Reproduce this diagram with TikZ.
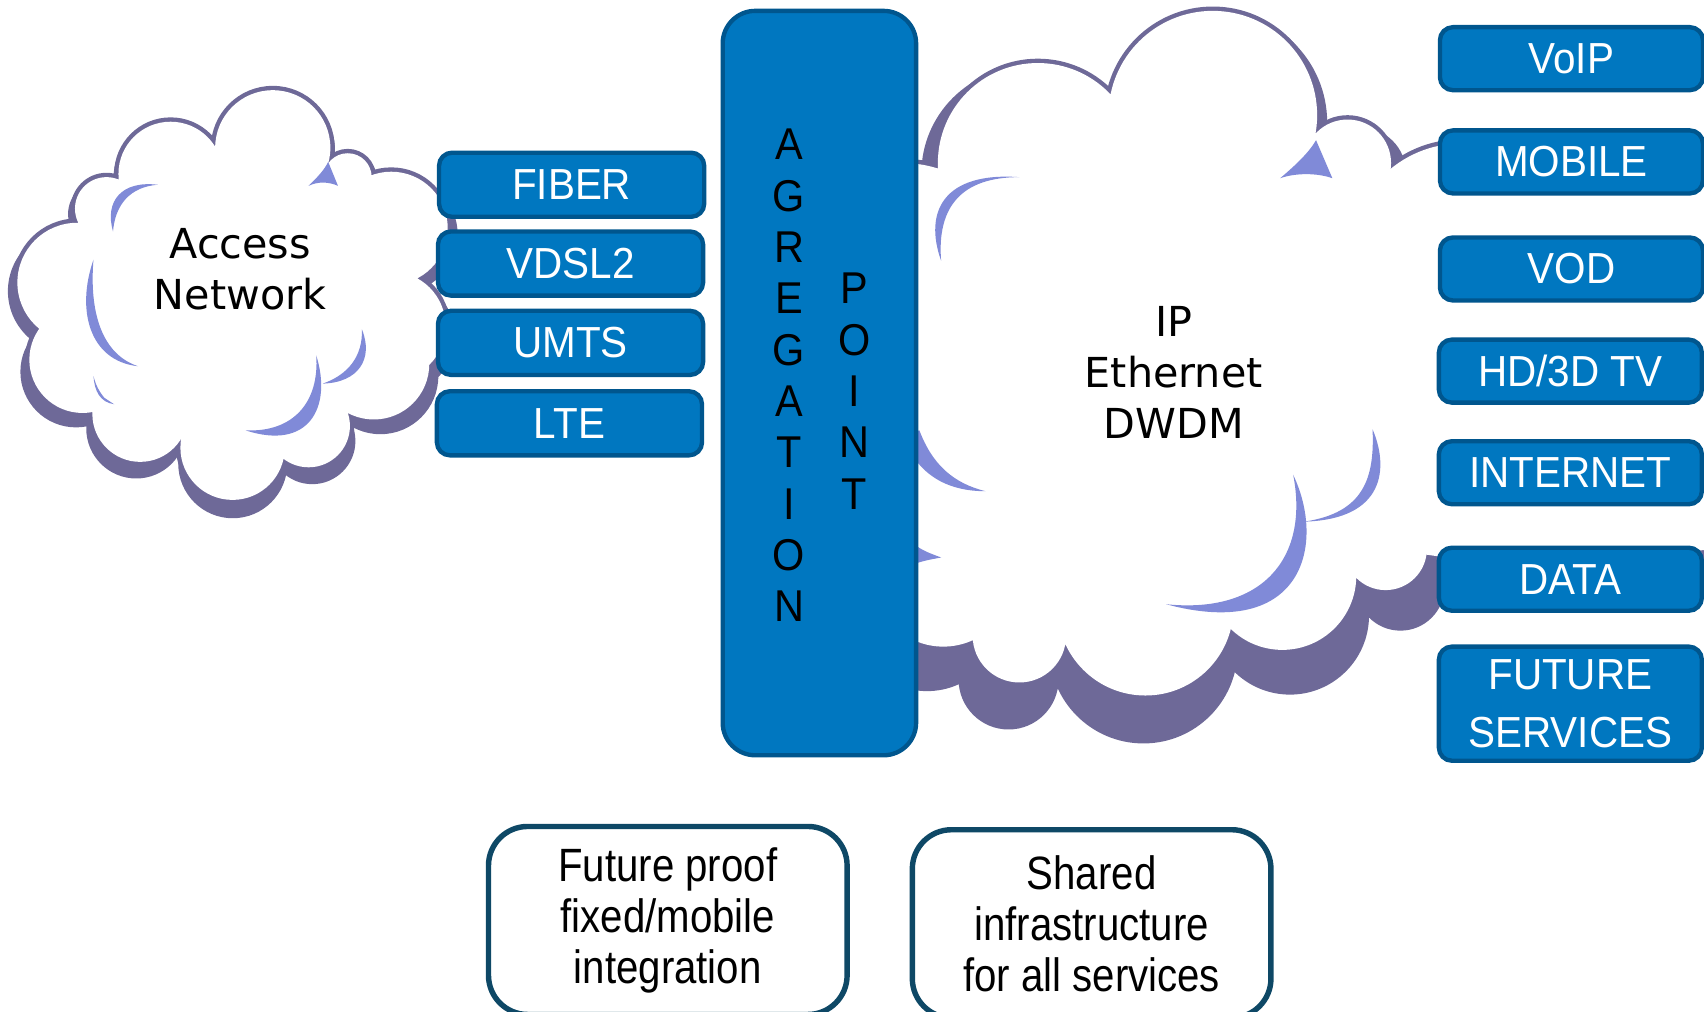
\documentclass[tikz,border=0pt]{standalone}
\usepackage{fontspec}
\newfontfamily\labelfont[FakeStretch=0.93]{Liberation Sans}
\newfontfamily\cloudfont{DejaVu Sans}
\newfontfamily\notefont[FakeStretch=0.86]{Liberation Sans}
\definecolor{boxblue}{RGB}{0,119,192}
\definecolor{boxedge}{RGB}{0,86,142}
\definecolor{rimpurple}{RGB}{110,105,152}
\definecolor{gleamblue}{RGB}{128,138,216}
\definecolor{noteedge}{RGB}{14,72,102}

\newcommand\accessbumps{(71,260) circle[radius=55] (76,331) circle[radius=49]
  (129,381) circle[radius=44] (214,412) circle[radius=48] (284,392) circle[radius=38]
  (344,335) circle[radius=51] (360,300) circle[radius=50] (360,210) circle[radius=52]
  (320,163) circle[radius=22] (251,136) circle[radius=53] (157,160) circle[radius=48]
  (98,192) circle[radius=29]}
\newcommand\accesscore{(210,280) circle[radius=125] (280,220) circle[radius=70]}
\newcommand\ipbumps{(830,260) circle[radius=110] (955,150) circle[radius=92]
  (1116,106) circle[radius=96] (1240,150) circle[radius=40] (1345,235) circle[radius=103]
  (1345,470) circle[radius=45] (1275,505) circle[radius=38] (1180,530) circle[radius=68]
  (1054,559) circle[radius=81] (938,585) circle[radius=43] (868,530) circle[radius=65]
  (820,420) circle[radius=100]}
\newcommand\ipcore{(830,260) -- (955,150) -- (1116,106) -- (1240,150) -- (1340,170)
  -- (1600,170) -- (1600,505) -- (1345,515) -- (1275,505) -- (1180,530) -- (1054,559)
  -- (938,585) -- (868,530) -- (820,420) -- cycle}

\tikzset{
  cloudrim/.style={draw=rimpurple, line width=4pt},
  gleam/.style={fill=gleamblue},
  cloudtext/.style={align=center, inner sep=0pt, font=\cloudfont\fontsize{19}{23.5}\selectfont},
  techbox/.style={draw=boxedge, fill=boxblue, line width=2pt, rounded corners=6pt,
    minimum width=122pt, minimum height=29.5pt, inner sep=0pt, text=white,
    font=\labelfont\fontsize{20}{27}\selectfont},
  servicebox/.style={techbox, align=center, minimum width=121pt, minimum height=29pt},
  aggbox/.style={draw=boxedge, fill=boxblue, line width=2pt, rounded corners=15pt,
    minimum width=89pt, minimum height=342.5pt},
  aggletters/.style={align=center, inner sep=0pt, font=\labelfont\fontsize{20.5}{23.6}\selectfont},
  notebox/.style={draw=noteedge, fill=white, line width=2.5pt, rounded corners=18pt,
    minimum width=165pt, minimum height=86.5pt, align=center, inner sep=0pt,
    font=\notefont\fontsize{21.5}{23.5}\selectfont}
}

\begin{document}
\begin{tikzpicture}[x=0.5pt,y=-0.5pt]
\useasboundingbox (0,0) rectangle (1568,931);
\clip (0,0) rectangle (1568,931);

\begin{scope}[shift={(210,85)},scale=1.045,shift={(-210,-85)}]
  \fill[rimpurple] \accessbumps;
  \fill[rimpurple] \accesscore;
\end{scope}
\draw[cloudrim] \accessbumps;
\fill[white] \accessbumps;
\fill[white] \accesscore;
\fill[gleam] (104,213) .. controls (96,185) and (112,166) .. (145,170)
  .. controls (120,172) and (106,188) .. cycle;
\fill[gleam] (284,171) .. controls (292,163) and (298,157) .. (302,149) -- (311,171)
  .. controls (302,167) and (292,167) .. cycle;
\fill[gleam] (86,239) .. controls (70,285) and (82,332) .. (127,337)
  .. controls (94,326) and (82,288) .. cycle;
\fill[gleam] (333,303) .. controls (344,330) and (330,352) .. (297,353)
  .. controls (320,345) and (334,328) .. cycle;
\fill[gleam] (291,327) .. controls (306,375) and (284,415) .. (226,396)
  .. controls (270,398) and (294,370) .. cycle;
\fill[gleam] (86,346) .. controls (87,360) and (92,370) .. (105,372) -- (96,366)
  .. controls (91,360) and (88,354) .. cycle;
\node[cloudtext] (access) at (221,248) {Access\\Network};

\begin{scope}[shift={(1080,10)},scale=1.07,shift={(-1080,-10)}]
  \fill[rimpurple] \ipbumps;
  \fill[rimpurple] \ipcore;
\end{scope}
\draw[cloudrim] \ipbumps;
\fill[white] \ipbumps;
\fill[white] \ipcore;
\fill[gleam] (866,240) .. controls (850,195) and (868,158) .. (938,163)
  .. controls (885,163) and (862,190) .. cycle;
\fill[gleam] (1178,164) .. controls (1192,152) and (1204,141) .. (1211,129) -- (1226,164)
  .. controls (1212,159) and (1192,159) .. cycle;
\fill[gleam] (830,400) .. controls (845,440) and (875,452) .. (907,452)
  .. controls (878,445) and (858,428) .. (846,396) -- cycle;
\fill[gleam] (835,497) .. controls (850,507) .. (866,513)
  .. controls (850,516) .. (835,521) -- cycle;
\fill[gleam] (1263,395) .. controls (1278,430) and (1275,478) .. (1200,480)
  .. controls (1255,472) and (1265,440) .. cycle;
\fill[gleam] (1190,437) .. controls (1220,500) and (1200,590) .. (1073,556)
  .. controls (1160,565) and (1205,515) .. cycle;
\node[cloudtext] (core) at (1080,343) {IP\\Ethernet\\DWDM};

\node[techbox] (fiber) at (526,170) {FIBER};
\node[techbox] (vdsl) at (525,242.5) {VDSL2};
\node[techbox] (umts) at (525,315.5) {UMTS};
\node[techbox] (lte) at (524,389.5) {LTE};

\node[aggbox] (agg) at (754,352.5) {};
\node[aggletters] (agregation) at (726,345.5) {A\\G\\R\\E\\G\\A\\T\\I\\O\\N};
\node[aggletters] (point) at (786,360) {P\\O\\I\\N\\T};

\node[servicebox] (voip) at (1446,54) {VoIP};
\node[servicebox] (mobile) at (1446,149) {MOBILE};
\node[servicebox] (vod) at (1446,247.5) {VOD};
\node[servicebox] (hdtv) at (1445,341.5) {HD/3D TV};
\node[servicebox] (internet) at (1445,435) {INTERNET};
\node[servicebox] (data) at (1445,533) {DATA};
\node[servicebox, minimum height=52.5pt] (future) at (1445,647.5) {FUTURE\\SERVICES};

\node[notebox] (fixedmobile) at (614.5,847) {Future proof\\fixed/mobile\\integration};
\node[notebox] (shared) at (1004.5,850) {Shared\\infrastructure\\for all services};
\end{tikzpicture}
\end{document}
